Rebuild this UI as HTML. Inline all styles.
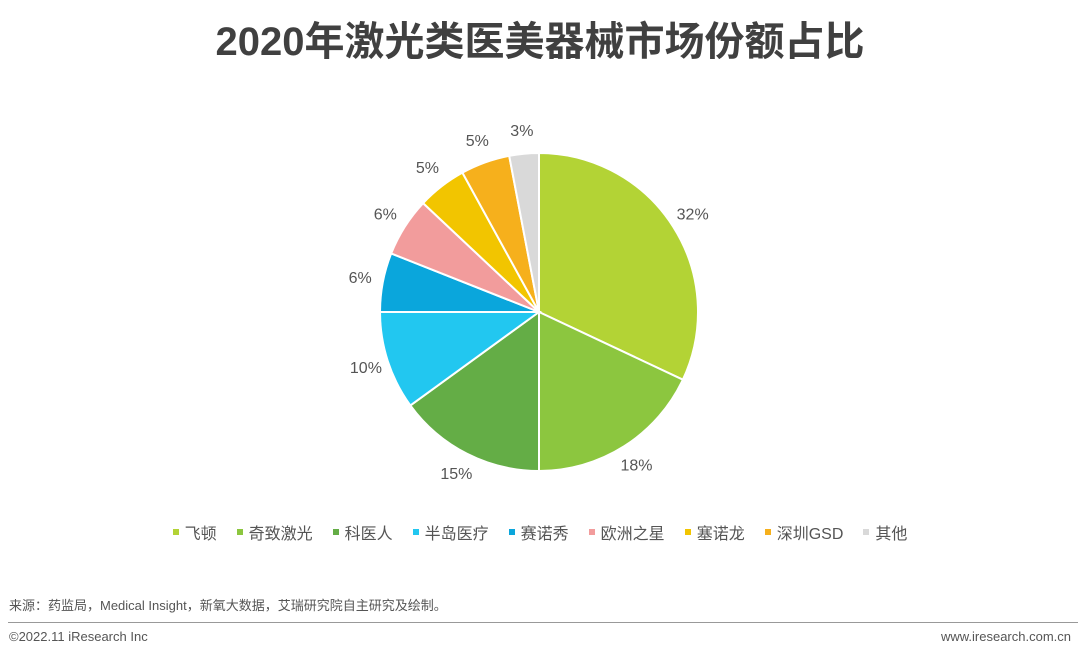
<!DOCTYPE html>
<html><head><meta charset="utf-8">
<style>
body{margin:0;width:1080px;height:657px;background:#fff;font-family:"Liberation Sans","Noto Sans CJK SC",sans-serif;position:relative;overflow:hidden}
.title{position:absolute;top:9px;left:0;width:1080px;text-align:center;font-size:40px;font-weight:bold;color:#404040}
.legend{position:absolute;top:520px;left:0;width:1080px;display:flex;justify-content:center;font-size:16px;color:#555}
.li{display:flex;align-items:center;margin:0 10px}
.sw{width:6px;height:6px;margin-right:6px}
.src{position:absolute;left:9px;top:595px;font-size:13px;color:#555}
.line{position:absolute;left:8px;right:2px;top:622px;height:1px;background:#999}
.foot{position:absolute;top:629px;font-size:13px;color:#555}
</style></head><body>
<div class="title">2020年激光类医美器械市场份额占比</div>
<svg id="pie" width="1080" height="657" style="position:absolute;left:0;top:0"></svg>
<div class="legend" id="legend"></div>
<div class="src">来源：药监局，Medical Insight，新氧大数据，艾瑞研究院自主研究及绘制。</div>
<div class="line"></div>
<div class="foot" style="left:9px">©2022.11 iResearch Inc</div>
<div class="foot" style="right:9px">www.iresearch.com.cn</div>
<script>
const categories=["飞顿","奇致激光","科医人","半岛医疗","赛诺秀","欧洲之星","塞诺龙","深圳GSD","其他"];
const values=[32,18,15,10,6,6,5,5,3];
const colors=["#b3d335","#8cc63f","#64ad46","#22c7f0","#0aa6dc","#f29c9c","#f2c500","#f6b01c","#d9d9d9"];
const svg=document.getElementById('pie');
const NS="http://www.w3.org/2000/svg";
const cx=539,cy=312,R=159,LR=182;
const total=values.reduce((a,b)=>a+b,0);
let a0=0;
values.forEach((v,i)=>{
  const a1=a0+v/total*2*Math.PI;
  const p=(a)=>[cx+R*Math.sin(a),cy-R*Math.cos(a)];
  const [x0,y0]=p(a0),[x1,y1]=p(a1);
  const path=document.createElementNS(NS,'path');
  path.setAttribute('d',`M${cx},${cy}L${x0},${y0}A${R},${R} 0 ${a1-a0>Math.PI?1:0} 1 ${x1},${y1}Z`);
  path.setAttribute('fill',colors[i]);
  path.setAttribute('stroke','#fff');
  path.setAttribute('stroke-width','2');
  
  
  svg.appendChild(path);
  const m=(a0+a1)/2;
  const t=document.createElementNS(NS,'text');
  t.setAttribute('x',cx+LR*Math.sin(m));
  t.setAttribute('y',cy-LR*Math.cos(m)+5);
  t.setAttribute('text-anchor','middle');
  t.setAttribute('font-size','16');
  t.setAttribute('fill','#555');
  t.setAttribute('font-family','"Liberation Sans",sans-serif');
  t.textContent=v+'%';
  
  
  svg.appendChild(t);
  a0=a1;
});
const lg=document.getElementById('legend');
categories.forEach((c,i)=>{
  const d=document.createElement('div');d.className='li';
  
  
  d.innerHTML=`<span class="sw" style="background:${colors[i]}"></span>${c}`;
  lg.appendChild(d);
});
</script>
</body></html>
